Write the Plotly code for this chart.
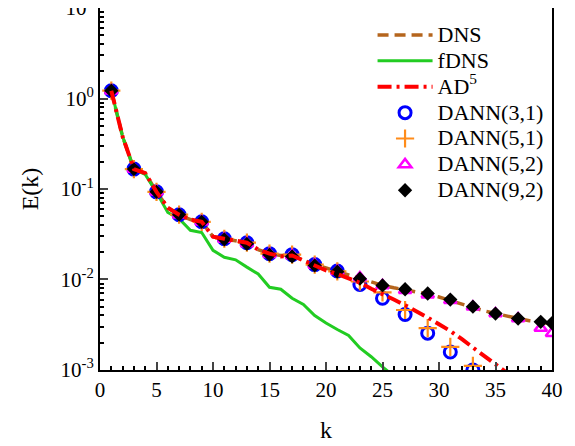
import plotly.graph_objects as go

# ---------------- data ----------------
k_line = list(range(1, 41))
E_dns = [1.22, 0.38, 0.166, 0.150, 0.093, 0.062, 0.052, 0.046, 0.0434, 0.0297,
         0.0282, 0.0268, 0.0255, 0.0214, 0.0193, 0.0184, 0.0186, 0.0163, 0.0146, 0.0134,
         0.0123, 0.0112, 0.0102, 0.0093, 0.0086, 0.0081, 0.0077, 0.0073, 0.0069, 0.0064,
         0.0059, 0.0054, 0.0049, 0.0045, 0.0042, 0.0039, 0.0037, 0.0035, 0.0034, 0.0032]

k_fdns = list(range(1, 28))
E_fdns = [1.22, 0.38, 0.166, 0.145, 0.092, 0.055, 0.047, 0.035, 0.033, 0.021,
          0.0176, 0.0165, 0.0137, 0.0115, 0.0082, 0.0078, 0.0062, 0.0053, 0.0040, 0.0033,
          0.0028, 0.0024, 0.00175, 0.0014, 0.00108, 0.00085, 0.00068]

k_ad = list(range(1, 38))
E_ad5 = [1.22, 0.38, 0.166, 0.150, 0.093, 0.062, 0.052, 0.046, 0.0434, 0.0297,
         0.0282, 0.0268, 0.0255, 0.0214, 0.0193, 0.0180, 0.0184, 0.0162, 0.0143, 0.0126,
         0.0115, 0.0103, 0.0092, 0.0079, 0.0068, 0.0060, 0.0052, 0.0045, 0.0038, 0.0032,
         0.0027, 0.0022, 0.00177, 0.0014, 0.00112, 0.00092, 0.00075]

k_m31 = [1, 3, 5, 7, 9, 11, 13, 15, 17, 19, 21, 23, 25, 27, 29, 31, 33]
E_dann31 = [1.22, 0.166, 0.093, 0.052, 0.0434, 0.0282, 0.0255, 0.0193, 0.0188, 0.0146,
            0.0124, 0.0088, 0.0062, 0.0041, 0.00255, 0.00158, 0.00100]
E_dann51 = [1.22, 0.166, 0.093, 0.052, 0.0434, 0.0282, 0.0255, 0.0193, 0.0188, 0.0146,
            0.0123, 0.0095, 0.0072, 0.0046, 0.0029, 0.0018, 0.00111]

k_m52 = [1, 3, 5, 7, 9, 11, 13, 15, 17, 19, 21, 23, 25, 27, 29, 31, 33, 35, 37, 39, 40]
E_dann52 = [1.22, 0.166, 0.093, 0.052, 0.0434, 0.0280, 0.0250, 0.0190, 0.0184, 0.0145,
            0.0123, 0.0105, 0.0086, 0.0076, 0.0068, 0.0059, 0.0050, 0.0042, 0.0037, 0.0029, 0.00255]
E_dann92 = [1.22, 0.166, 0.093, 0.052, 0.0434, 0.0278, 0.0248, 0.0188, 0.0180, 0.0143,
            0.0122, 0.0102, 0.0086, 0.0078, 0.0070, 0.0060, 0.0050, 0.0042, 0.0037, 0.0034, 0.0033]

y_tickvals = [1e-3, 1e-2, 1e-1, 1e0, 1e1]
y_ticktext = ["10<sup>-3</sup>", "10<sup>-2</sup>", "10<sup>-1</sup>", "10<sup>0</sup>", "10<sup>1</sup>"]
x_tickvals = [0, 5, 10, 15, 20, 25, 30, 35, 40]

FONT = "Liberation Serif, Times New Roman, Times, serif"


def big(s):
    return '<span style="font-size:22px">' + s + '</span>'


fig = go.Figure()
fig.add_trace(go.Scatter(x=k_line, y=E_dns, mode="lines", name=big("DNS"), legendrank=1,
                         line=dict(color="#B5651D", width=3.5, dash="11px,6px")))
fig.add_trace(go.Scatter(x=k_fdns, y=E_fdns, mode="lines", name=big("fDNS"), legendrank=2,
                         line=dict(color="#22CC22", width=3)))
fig.add_trace(go.Scatter(x=k_m31, y=E_dann31, mode="markers", name=big("DANN(3,1)"), legendrank=4,
                         marker=dict(symbol="circle-open", size=12, color="#0000FF",
                                     line=dict(width=3, color="#0000FF"))))
fig.add_trace(go.Scatter(x=k_m31, y=E_dann51, mode="markers", name=big("DANN(5,1)"), legendrank=5,
                         marker=dict(symbol="cross-thin-open", size=13, color="#FF8C1A",
                                     line=dict(width=2.2, color="#FF8C1A"))))
fig.add_trace(go.Scatter(x=k_m52, y=E_dann52, mode="markers", name=big("DANN(5,2)"), legendrank=6,
                         marker=dict(symbol="triangle-up-open", size=11, color="#FF00FF",
                                     line=dict(width=2.5, color="#FF00FF"))))
fig.add_trace(go.Scatter(x=k_m52, y=E_dann92, mode="markers", name=big("DANN(9,2)"), legendrank=7,
                         marker=dict(symbol="diamond", size=11, color="#000000")))
fig.add_trace(go.Scatter(x=k_ad, y=E_ad5, mode="lines", name=big("AD<sup>5</sup>"), legendrank=3,
                         line=dict(color="#FF0000", width=4, dash="14px,5px,3px,5px")))

fig.update_layout(
    width=575, height=446,
    margin=dict(l=92, r=31, t=0, b=84, autoexpand=False),
    paper_bgcolor="white", plot_bgcolor="white",
    font=dict(family=FONT, size=20, color="black"),
    showlegend=True,
    legend=dict(x=0.603, y=0.975, xanchor="left", yanchor="top",
                bgcolor="rgba(0,0,0,0)", font=dict(size=17.6, family=FONT),
                itemwidth=55, tracegroupgap=0),
)
fig.update_xaxes(range=[0, 40], tickvals=x_tickvals, ticks="inside", ticklen=8, tickwidth=1.5,
                 automargin=False,
                 showline=True, linecolor="black", linewidth=2, mirror=True, showgrid=False,
                 zeroline=False, tickfont=dict(size=21, family=FONT),
                 minor=dict(ticks="inside", dtick=1, ticklen=4, tickwidth=1.5, tickcolor="black"),
                 title=dict(text="k", font=dict(size=24, family=FONT), standoff=20))
fig.update_yaxes(type="log", range=[-3.0005, 1.0005], tickvals=y_tickvals, ticktext=y_ticktext,
                 ticks="inside", ticklen=8, tickwidth=1.5, automargin=False,
                 ticklabeloverflow="allow",
                 showline=True, linecolor="black", linewidth=2, mirror=True, showgrid=False,
                 zeroline=False, tickfont=dict(size=21, family=FONT),
                 minor=dict(ticks="inside", dtick="D1", ticklen=4, tickwidth=1.5, tickcolor="black"),
                 title=dict(text="E(k)", font=dict(size=24, family=FONT), standoff=15))

fig.write_html("out.html")
